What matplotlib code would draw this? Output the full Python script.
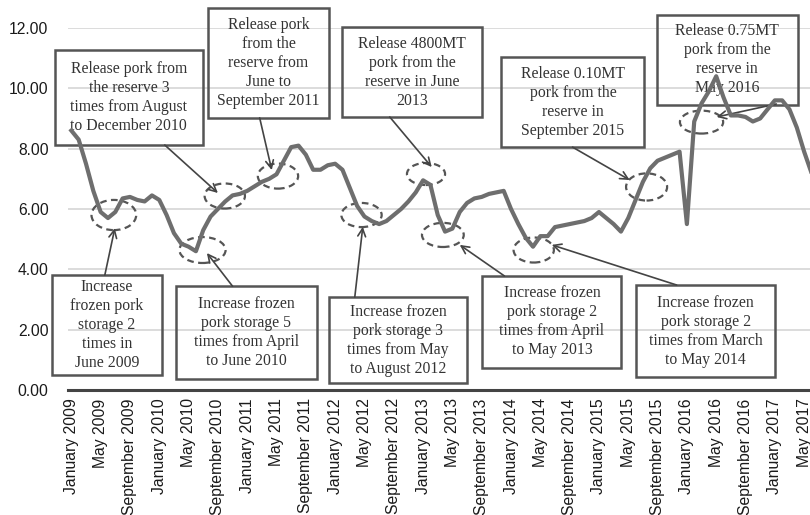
import matplotlib
matplotlib.use('Agg')
import matplotlib.pyplot as plt
from matplotlib.patches import Ellipse, Rectangle

# Pork price series, monthly from January 2009
month_names = ['January', 'February', 'March', 'April', 'May', 'June', 'July',
               'August', 'September', 'October', 'November', 'December']
start_year = 2009
values = [8.6, 8.3, 7.5, 6.6, 5.9, 5.7, 5.9, 6.35, 6.4, 6.3, 6.25, 6.45,
          6.3, 5.8, 5.2, 4.85, 4.75, 4.6, 5.3, 5.75, 6.0, 6.25, 6.45, 6.5,
          6.6, 6.75, 6.9, 7.0, 7.15, 7.6, 8.05, 8.1, 7.8, 7.3, 7.3, 7.45,
          7.5, 7.3, 6.7, 6.1, 5.75, 5.6, 5.5, 5.6, 5.8, 6.0, 6.25, 6.55,
          6.95, 6.8, 5.8, 5.25, 5.35, 5.9, 6.2, 6.35, 6.4, 6.5, 6.55, 6.6,
          6.0, 5.5, 5.05, 4.75, 5.1, 5.1, 5.4, 5.45, 5.5, 5.55, 5.6, 5.7,
          5.9, 5.7, 5.5, 5.25, 5.7, 6.3, 6.9, 7.35, 7.6, 7.7, 7.8, 7.9,
          5.5, 8.9, 9.5, 9.9, 10.4, 9.7, 9.1, 9.1, 9.05, 8.9, 9.0, 9.3,
          9.6, 9.6, 9.3, 8.7, 7.9, 7.2]
months = list(range(len(values)))
tick_months = months[::4]
tick_labels = [month_names[m % 12] + ' ' + str(start_year + m // 12) for m in tick_months]

# Policy notes
notes = [
    'Release pork from\nthe reserve 3\ntimes from August\nto December 2010',
    'Release pork\nfrom the\nreserve from\nJune to\nSeptember 2011',
    'Release 4800MT\npork from the\nreserve in June\n2013',
    'Release 0.10MT\npork from the\nreserve in\nSeptember 2015',
    'Release 0.75MT\npork from the\nreserve in\nMay 2016',
    'Increase\nfrozen pork\nstorage 2\ntimes in\nJune 2009',
    'Increase frozen\npork storage 5\ntimes from April\nto June 2010',
    'Increase frozen\npork storage 3\ntimes from May\nto August 2012',
    'Increase frozen\npork storage 2\ntimes from April\nto May 2013',
    'Increase frozen\npork storage 2\ntimes from March\nto May 2014',
]
# layout: box (x0, y0, w, h), arrow start, arrow end, ellipse (cx, cy, w, h)
boxes = [(-2.25, 8.12, 20.2, 3.15), (18.6, 9.02, 16.6, 3.65), (36.9, 9.05, 19.2, 2.98),
         (58.7, 8.05, 19.5, 2.98), (79.9, 9.45, 19.2, 2.98), (-2.66, 0.5, 15.0, 3.31),
         (14.26, 0.36, 19.24, 3.08), (35.1, 0.23, 18.96, 2.85), (56.1, 0.73, 18.96, 3.05),
         (77.1, 0.43, 18.96, 3.05)]
arrow_from = [(12.75, 8.12), (25.7, 9.02), (43.45, 9.05), (68.4, 8.05), (96.2, 9.48),
              (4.57, 3.81), (22.0, 3.44), (38.68, 3.08), (59.1, 3.78), (82.6, 3.48)]
arrow_to = [(20.0, 6.53), (27.35, 7.29), (49.18, 7.39), (76.2, 6.96), (88.06, 9.05),
            (5.93, 5.36), (18.5, 4.54), (39.77, 5.41), (53.0, 4.81), (65.56, 4.81)]
ellipses = [(20.94, 6.43, 5.5, 0.83), (28.2, 7.09, 5.5, 0.83), (48.4, 7.16, 5.2, 0.73),
            (78.5, 6.73, 5.6, 0.9), (86.0, 8.88, 5.9, 0.76), (5.8, 5.8, 6.1, 1.0),
            (17.9, 4.64, 6.3, 0.86), (39.6, 5.8, 5.5, 0.8), (50.7, 5.14, 5.7, 0.8),
            (63.1, 4.64, 5.5, 0.83)]

fig = plt.figure(figsize=(8.1, 5.15), dpi=100)
ax = fig.add_axes([0.084, 0.2427, 0.916, 0.703])

ax.plot(months, values, color='#6e6e6e', lw=3, solid_joinstyle='round', zorder=7)

ax.set_xlim(-0.45, 100.8)
ax.set_ylim(0, 12)
ax.set_yticks([0, 2, 4, 6, 8, 10, 12])
ax.set_yticklabels(['%.2f' % v for v in [0, 2, 4, 6, 8, 10, 12]])
ax.set_xticks(tick_months)
ax.set_xticklabels(tick_labels, rotation=90)
ax.grid(axis='y', color='#d9d9d9', lw=1.3)
ax.set_axisbelow(True)
for s in ['top', 'right', 'left']:
    ax.spines[s].set_visible(False)
ax.spines['bottom'].set_color('#444444')
ax.spines['bottom'].set_linewidth(2.2)
ax.tick_params(axis='both', length=0, labelsize=11.3, labelcolor='#1a1a1a')
ax.tick_params(axis='y', pad=14)
ax.tick_params(axis='x', pad=6)
for lab in ax.get_xticklabels() + ax.get_yticklabels():
    lab.set_fontfamily('Liberation Sans')

# Notes
for i, txt in enumerate(notes):
    x0, y0, w, h = boxes[i]
    ax.add_patch(Rectangle((x0, y0), w, h, facecolor='none', edgecolor='#555555',
                           lw=1.8, zorder=5, clip_on=False))
    ax.text(x0 + w / 2, y0 + h / 2, txt, ha='center', va='center', fontsize=11.3,
            family='Liberation Serif', color='#333333', linespacing=1.25, zorder=6)
    cx, cy, ew, eh = ellipses[i]
    ax.add_patch(Ellipse((cx, cy), ew, eh, fill=False, edgecolor='#555555', lw=1.6,
                         linestyle=(0, (3, 2)), zorder=4, clip_on=False))
    ax.annotate('', xy=arrow_to[i], xytext=arrow_from[i], annotation_clip=False,
                arrowprops=dict(arrowstyle='->', color='#444444', lw=1.2,
                                shrinkA=0, shrinkB=0, mutation_scale=14), zorder=6)

fig.savefig('out.png', dpi=100)
